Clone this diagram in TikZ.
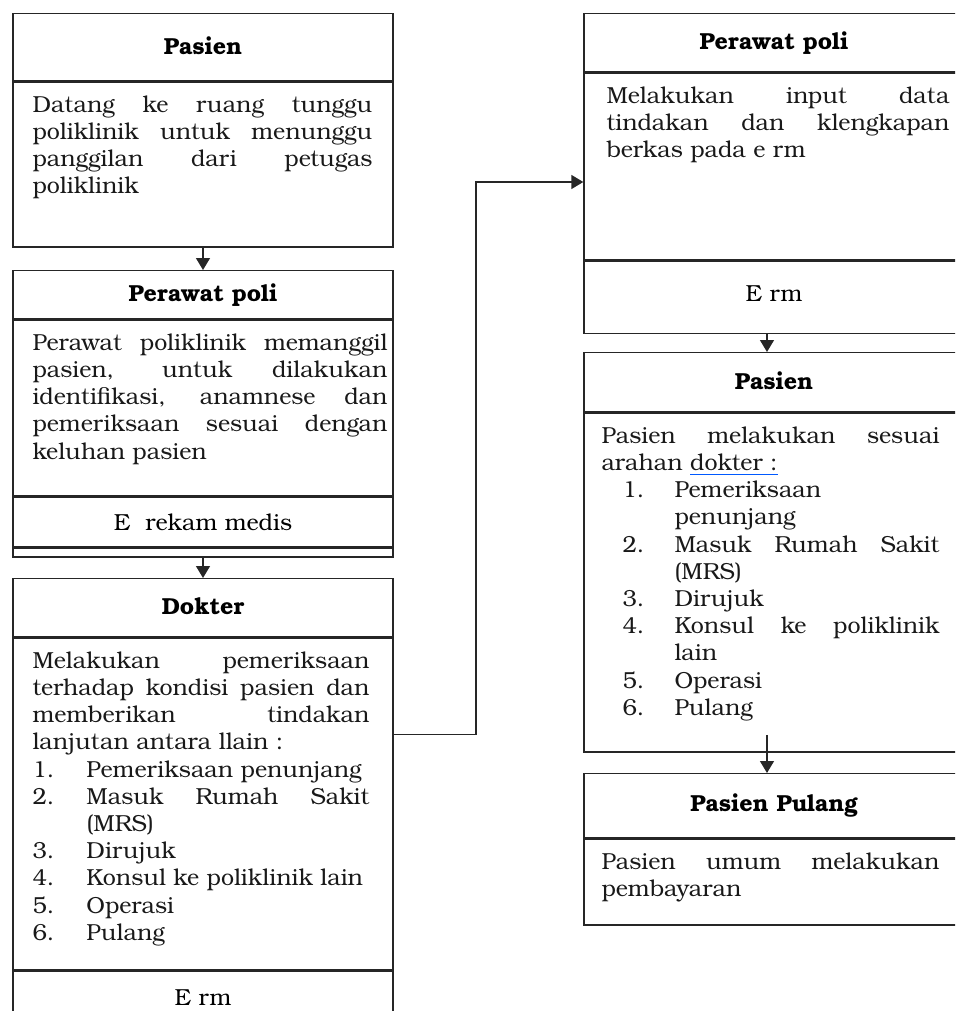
\documentclass[tikz,border=0pt]{standalone}
\usepackage{fontspec}
\setmainfont{texgyrebonum}[Extension=.otf,UprightFont=*-regular,BoldFont=*-bold,ItalicFont=*-italic,BoldItalicFont=*-bolditalic]
\usetikzlibrary{calc,positioning,arrows.meta}

\newcommand{\bodysize}{\fontsize{23.2}{27.2}\selectfont}
\newlength\lblskip
\newlength\txtskip
%% numbered line with hanging text
\newcommand{\numitem}[2]{\par\noindent\hangindent=\txtskip\hangafter=1\makebox[\txtskip][l]{\hspace*{\lblskip}#1}#2}
%% spell checker mark under a word
\newcommand{\spellmark}[1]{\setbox0\hbox{#1}\rlap{\color{blue!65!cyan}\rule[-5pt]{\wd0}{1.6pt}}\box0}

\hyphenpenalty=10000
\exhyphenpenalty=10000
\tolerance=10000
\hbadness=10000
\hfuzz=20pt

\tikzset{
  every node/.style={font=\bodysize},
  box/.style={draw=black!85, line width=1.4pt, minimum width=380pt, inner sep=0pt, anchor=north},
  head/.style={box, font=\bodysize\bfseries},
  txt/.style={anchor=north west, inner sep=0pt, align=justify, text=black!90},
  flow/.style={draw=black!85, line width=1.4pt, -{Triangle[length=12pt,width=14pt]}}
}

\begin{document}
\begin{tikzpicture}[x=1pt,y=-1pt]
  \useasboundingbox (0,0) rectangle (955,1011);
  \clip (0,0) rectangle (955,1011);

  %% Left column
  \node[head, minimum height=67pt] (pasHead) at (203,13) {\raisebox{4pt}{Pasien}};
  \node[box, minimum height=165pt] (pasBody) at (pasHead.south) {};
  \node[txt, text width=340pt] (pasText) at ($(pasBody.north west)+(20,14)$)
  {Datang ke ruang tunggu\linebreak poliklinik untuk menunggu\linebreak
   panggilan dari petugas\linebreak poliklinik};

  \node[head, minimum height=48pt] (ppHead) at (203,270) {Perawat poli};
  \node[box, minimum height=176pt] (ppBody) at (ppHead.south) {};
  \node[box, minimum height=49pt] (ppFoot) at (ppBody.south) {E\ \ rekam medis};
  \node[box, minimum height=9pt] (ppStrip) at (ppFoot.south) {};
  \node[txt, text width=355pt] (ppText) at ($(ppBody.north west)+(20,14)$)
  {Perawat poliklinik memanggil\linebreak pasien, untuk dilakukan\linebreak
   identifikasi, anamnese dan\linebreak pemeriksaan sesuai dengan\linebreak
   keluhan pasien};

  \node[head, minimum height=58pt] (dokHead) at (203,578) {\raisebox{3pt}{Dokter}};
  \node[box, minimum height=332pt] (dokBody) at (dokHead.south) {};
  \node[box, minimum height=52pt] (dokFoot) at (dokBody.south) {E rm};
  \node[txt, text width=337pt] (dokText) at ($(dokBody.north west)+(20,14)$)
  {\setlength\lblskip{0pt}\setlength\txtskip{54pt}%
   Melakukan pemeriksaan\linebreak terhadap kondisi pasien dan\linebreak
   memberikan tindakan\linebreak lanjutan antara llain~:
   \numitem{1.}{Pemeriksaan penunjang}
   \numitem{2.}{Masuk Rumah Sakit\linebreak (MRS)}
   \numitem{3.}{Dirujuk}
   \numitem{4.}{Konsul ke poliklinik lain}
   \numitem{5.}{Operasi}
   \numitem{6.}{Pulang}};

  %% Right column
  \node[head, minimum height=58pt] (ppRHead) at (774,13) {Perawat poli};
  \node[box, minimum height=187pt] (ppRBody) at (ppRHead.south) {};
  \node[box, minimum height=72pt] (ppRFoot) at (ppRBody.south) {\raisebox{7pt}{E rm}};
  \node[txt, text width=343pt] (ppRText) at ($(ppRBody.north west)+(23,14)$)
  {Melakukan input data\linebreak tindakan dan klengkapan\linebreak
   berkas pada e rm};

  \node[head, minimum height=59pt] (pasRHead) at (774,352) {\raisebox{3pt}{Pasien}};
  \node[box, minimum height=339pt] (pasRBody) at (pasRHead.south) {};
  \node[txt, text width=338pt] (pasRText) at ($(pasRBody.north west)+(18,14)$)
  {\setlength\lblskip{21pt}\setlength\txtskip{73pt}%
   Pasien melakukan sesuai\linebreak arahan \spellmark{dokter :}
   \numitem{1.}{Pemeriksaan\newline penunjang}
   \numitem{2.}{Masuk Rumah Sakit\linebreak (MRS)}
   \numitem{3.}{Dirujuk}
   \numitem{4.}{Konsul ke poliklinik\linebreak lain}
   \numitem{5.}{Operasi}
   \numitem{6.}{Pulang}};

  \node[head, minimum height=64pt] (pulHead) at (774,773) {Pasien Pulang};
  \node[box, minimum height=86pt] (pulBody) at (pulHead.south) {};
  \node[txt, text width=338pt] (pulText) at ($(pulBody.north west)+(18,14)$)
  {Pasien umum melakukan\linebreak pembayaran};

  %% Connectors
  \coordinate (rx) at (767,0);
  \coordinate (jog) at (476,182);
  \draw[flow] (pasBody.south) -- (ppHead.north);
  \draw[flow] (ppStrip.south) -- (dokHead.north);
  \draw[flow] (ppRFoot.south -| rx) -- (pasRHead.north -| rx);
  \draw[flow] ($(pasRBody.south -| rx)+(0,-18)$) -- (pulHead.north -| rx);
  \draw[flow] ($(dokBody.north east)+(0,97)$) -| (jog) -- (ppRBody.west |- jog);
\end{tikzpicture}
\end{document}
